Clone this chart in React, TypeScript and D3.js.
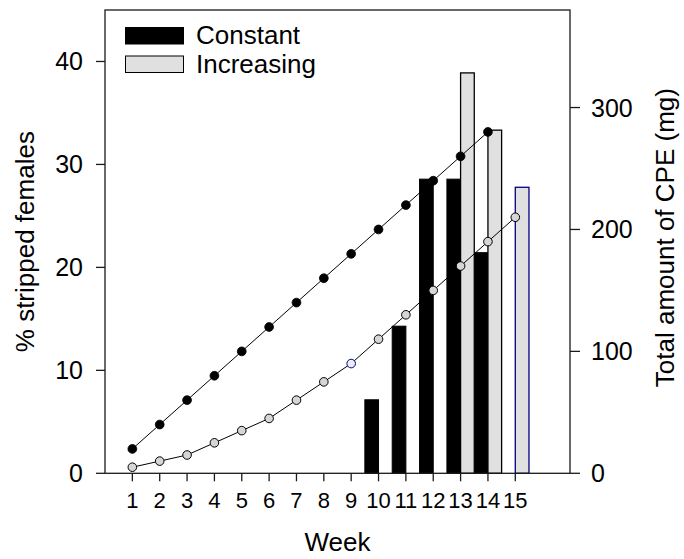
import React from "react";
import * as d3 from "d3";

// Weekly data
const weeks = [1, 2, 3, 4, 5, 6, 7, 8, 9, 10, 11, 12, 13, 14, 15];

// % stripped females (bars, left axis)
const constantBarWeeks = [10, 11, 12, 13, 14];
const constantBarValues = [7.14, 14.29, 28.57, 28.57, 21.43];
const increasingBarWeeks = [13, 14, 15];
const increasingBarValues = [38.89, 33.33, 27.78];

// Total amount of CPE in mg (lines, right axis)
const constantLineWeeks = [1, 2, 3, 4, 5, 6, 7, 8, 9, 10, 11, 12, 13, 14];
const constantLineValues = [20, 40, 60, 80, 100, 120, 140, 160, 180, 200, 220, 240, 260, 280];
const increasingLineWeeks = [1, 2, 3, 4, 5, 6, 7, 8, 9, 10, 11, 12, 13, 14, 15];
const increasingLineValues = [5, 10, 15, 25, 35, 45, 60, 75, 90, 110, 130, 150, 170, 190, 210];

const leftTicks = [0, 10, 20, 30, 40];
const rightTicks = [0, 100, 200, 300];

const FONT = "'Liberation Sans', Arial, Helvetica, sans-serif";
const AXIS = "#1a1a1a";
const GREY = "#e0e0e0";
const NAVY = "#000088";

export default function App() {
  const left = 105;
  const right = 570;
  const top = 10;
  const bottom = 473.3;

  const x = d3.scaleLinear().domain([0, 17]).range([left, right]);
  const yL = d3.scaleLinear().domain([0, 45]).range([bottom, top]);
  const yR = d3.scaleLinear().domain([0, 380]).range([bottom, top]);

  const line = d3
    .line<[number, number]>()
    .x((d) => x(d[0]))
    .y((d) => yR(d[1]));

  const constPts: [number, number][] = constantLineWeeks.map((w, i) => [w, constantLineValues[i]]);
  const incPts: [number, number][] = increasingLineWeeks.map((w, i) => [w, increasingLineValues[i]]);

  return (
    <svg
      width={684}
      height={559}
      style={{ position: "absolute", left: 0, top: 0, background: "#fff", display: "block" }}
      fontFamily={FONT}
    >
      {/* bars: constant to the left of the tick, increasing to the right */}
      {constantBarWeeks.map((w, i) => (
        <rect
          key={"cb" + w}
          x={x(w - 0.5)}
          y={yL(constantBarValues[i])}
          width={x(w) - x(w - 0.5)}
          height={yL(0) - yL(constantBarValues[i])}
          fill="#000"
          stroke="#000"
          strokeWidth={1}
        />
      ))}
      {increasingBarWeeks.map((w, i) => (
        <rect
          key={"ib" + w}
          x={x(w)}
          y={yL(increasingBarValues[i])}
          width={x(w + 0.5) - x(w)}
          height={yL(0) - yL(increasingBarValues[i])}
          fill={GREY}
          stroke={w === 15 ? NAVY : "#000"}
          strokeWidth={1.3}
        />
      ))}

      {/* CPE lines */}
      <path d={line(constPts) || ""} fill="none" stroke="#000" strokeWidth={1} />
      <path d={line(incPts) || ""} fill="none" stroke="#000" strokeWidth={1} />
      {constPts.map((p) => (
        <circle key={"cp" + p[0]} cx={x(p[0])} cy={yR(p[1])} r={4.4} fill="#000" stroke="#000" strokeWidth={0.8} />
      ))}
      {incPts.map((p) => (
        <circle
          key={"ip" + p[0]}
          cx={x(p[0])}
          cy={yR(p[1])}
          r={4.3}
          fill={p[0] === 9 ? "#ececf4" : "#d6d6d6"}
          stroke={p[0] === 9 ? NAVY : "#000"}
          strokeWidth={1}
        />
      ))}

      {/* frame */}
      <rect x={left} y={top} width={right - left} height={bottom - top} fill="none" stroke={AXIS} strokeWidth={1.3} />

      {/* left axis */}
      {leftTicks.map((t) => (
        <g key={"lt" + t}>
          <line x1={left - 9} x2={left} y1={yL(t)} y2={yL(t)} stroke={AXIS} strokeWidth={1.3} />
          <text x={83} y={yL(t)} dy="0.36em" textAnchor="end" fontSize={25} fill="#000">
            {t}
          </text>
        </g>
      ))}

      {/* right axis */}
      {rightTicks.map((t) => (
        <g key={"rt" + t}>
          <line x1={right} x2={right + 10} y1={yR(t)} y2={yR(t)} stroke={AXIS} strokeWidth={1.3} />
          <text x={591} y={yR(t)} dy="0.36em" textAnchor="start" fontSize={25} fill="#000">
            {t}
          </text>
        </g>
      ))}

      {/* bottom axis */}
      {weeks.map((w) => (
        <g key={"xt" + w}>
          <line x1={x(w)} x2={x(w)} y1={bottom} y2={bottom + 8} stroke={AXIS} strokeWidth={1.3} />
          <text x={x(w)} y={508} textAnchor="middle" fontSize={22} fill="#000">
            {w}
          </text>
        </g>
      ))}

      {/* axis titles */}
      <text x={(left + right) / 2} y={551} textAnchor="middle" fontSize={26} fill="#000">
        Week
      </text>
      <text
        transform={`translate(33.5, ${(top + bottom) / 2}) rotate(-90)`}
        textAnchor="middle"
        fontSize={26}
        fill="#000"
      >
        % stripped females
      </text>
      <text
        transform={`translate(674, ${(top + bottom) / 2 - 4}) rotate(-90)`}
        textAnchor="middle"
        fontSize={26}
        fill="#000"
      >
        Total amount of CPE (mg)
      </text>

      {/* legend */}
      <rect x={125.5} y={27.5} width={58} height={16.5} fill="#000" stroke="#000" strokeWidth={1} />
      <text x={196} y={44} fontSize={26} fill="#000">
        Constant
      </text>
      <rect x={125.5} y={56} width={58} height={16.5} fill={GREY} stroke="#000" strokeWidth={1} />
      <text x={196} y={73} fontSize={26} fill="#000">
        Increasing
      </text>
    </svg>
  );
}
